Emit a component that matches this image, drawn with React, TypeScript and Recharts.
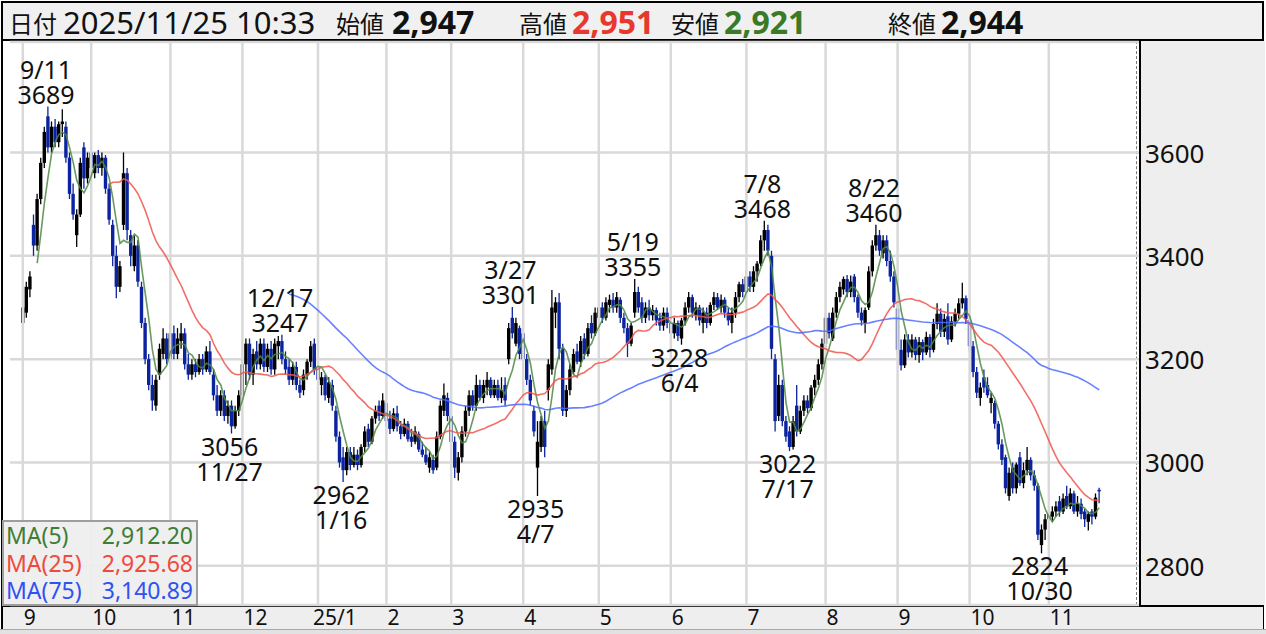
import React from 'react';
import {
  ComposedChart, Bar, Line, XAxis, YAxis, CartesianGrid, ReferenceLine, ReferenceDot,
} from 'recharts';

// ── Data ──────────────────────────────────────────────────────────────────────

// month labels on the time axis, one per month array below
const MONTH_LABELS = ['9', '10', '11', '12', '25/1', '2', '3', '4', '5', '6', '7', '8', '9', '10', '11'];

// daily candles [open, high, low, close]
const SEP24 = [
  [3270, 3320, 3262, 3300], [3290, 3350, 3280, 3340], [3335, 3370, 3320, 3360], [3460, 3480, 3400, 3420],
  [3420, 3520, 3410, 3510], [3510, 3590, 3500, 3580], [3580, 3650, 3570, 3640], [3670, 3689, 3600, 3610],
  [3610, 3660, 3600, 3650], [3650, 3665, 3610, 3620], [3620, 3660, 3610, 3655], [3655, 3684, 3630, 3660],
  [3650, 3660, 3580, 3590], [3590, 3600, 3510, 3520], [3520, 3540, 3470, 3480], [3440, 3490, 3417, 3480],
  [3480, 3590, 3475, 3580], [3610, 3620, 3530, 3550], [3550, 3600, 3540, 3590],
];
const OCT24 = [
  [3600, 3610, 3560, 3570], [3560, 3600, 3550, 3595], [3595, 3605, 3560, 3570], [3570, 3600, 3555, 3590],
  [3590, 3595, 3520, 3530], [3530, 3540, 3460, 3470], [3460, 3470, 3380, 3400], [3400, 3420, 3318, 3340],
  [3340, 3390, 3330, 3380], [3460, 3600, 3450, 3560], [3560, 3570, 3430, 3450], [3440, 3450, 3380, 3400],
  [3380, 3440, 3370, 3420], [3420, 3430, 3340, 3350], [3340, 3350, 3260, 3270], [3270, 3280, 3190, 3200],
  [3200, 3210, 3140, 3150], [3150, 3170, 3100, 3120], [3110, 3170, 3100, 3160], [3170, 3230, 3160, 3220],
  [3210, 3260, 3200, 3240], [3240, 3250, 3190, 3200],
];
const NOV24 = [
  [3200, 3270, 3190, 3250], [3250, 3265, 3200, 3210], [3210, 3260, 3200, 3240], [3235, 3270, 3220, 3250],
  [3250, 3260, 3180, 3190], [3190, 3210, 3160, 3170], [3170, 3200, 3160, 3190], [3190, 3200, 3165, 3175],
  [3175, 3210, 3170, 3200], [3200, 3210, 3170, 3180], [3180, 3225, 3175, 3215], [3215, 3235, 3170, 3175],
  [3170, 3180, 3120, 3130], [3130, 3150, 3090, 3100], [3100, 3140, 3090, 3130], [3130, 3140, 3080, 3090],
  [3090, 3120, 3075, 3110], [3110, 3120, 3056, 3070], [3070, 3110, 3065, 3100], [3100, 3140, 3090, 3130],
];
const DEC24 = [
  [3130, 3200, 3120, 3190], [3190, 3240, 3150, 3230], [3230, 3240, 3160, 3170], [3170, 3220, 3150, 3210],
  [3215, 3235, 3180, 3190], [3190, 3240, 3180, 3230], [3230, 3240, 3175, 3185], [3185, 3230, 3175, 3220],
  [3220, 3235, 3170, 3180], [3180, 3240, 3170, 3230], [3225, 3245, 3200, 3235], [3235, 3247, 3190, 3200],
  [3200, 3215, 3170, 3180], [3185, 3200, 3150, 3160], [3160, 3195, 3150, 3185], [3185, 3195, 3140, 3150],
  [3150, 3160, 3125, 3135], [3140, 3180, 3130, 3170], [3170, 3200, 3160, 3195], [3195, 3235, 3185, 3225],
  [3230, 3240, 3170, 3180],
];
const JAN25 = [
  [3185, 3195, 3150, 3160], [3150, 3175, 3130, 3165], [3165, 3170, 3120, 3130], [3125, 3165, 3115, 3155],
  [3150, 3160, 3100, 3110], [3100, 3110, 3040, 3050], [3050, 3060, 2990, 3000], [3010, 3030, 2962, 2985],
  [2985, 3030, 2975, 3020], [3020, 3030, 2985, 2995], [2995, 3030, 2990, 3015], [3015, 3025, 2985, 2995],
  [2995, 3035, 2990, 3030], [3030, 3070, 3020, 3060], [3065, 3075, 3030, 3040], [3040, 3090, 3035, 3085],
  [3085, 3110, 3075, 3100], [3110, 3120, 3080, 3090], [3090, 3134, 3085, 3120],
];
const FEB25 = [
  [3115, 3120, 3070, 3080], [3085, 3100, 3055, 3065], [3065, 3105, 3060, 3095], [3095, 3110, 3060, 3070],
  [3070, 3080, 3045, 3055], [3055, 3085, 3050, 3075], [3075, 3080, 3040, 3045], [3050, 3065, 3030, 3040],
  [3040, 3070, 3035, 3060], [3055, 3060, 3020, 3025], [3025, 3040, 3010, 3015], [3015, 3030, 2995, 3000],
  [2990, 3020, 2980, 3010], [3005, 3015, 2978, 2985], [2990, 3060, 2985, 3050], [3050, 3120, 3045, 3110],
  [3100, 3153, 3090, 3130], [3125, 3135, 3080, 3090],
];
const MAR25 = [
  [3090, 3100, 3030, 3040], [3040, 3050, 2970, 2990], [2980, 3020, 2965, 3010], [3010, 3070, 3000, 3060],
  [3060, 3110, 3050, 3100], [3100, 3140, 3090, 3130], [3130, 3140, 3100, 3110], [3110, 3170, 3100, 3150],
  [3150, 3160, 3120, 3125], [3125, 3160, 3115, 3150], [3145, 3175, 3130, 3160], [3160, 3165, 3125, 3130],
  [3130, 3160, 3125, 3150], [3150, 3160, 3120, 3125], [3125, 3165, 3115, 3140], [3150, 3165, 3110, 3120],
  [3200, 3270, 3190, 3260], [3280, 3301, 3240, 3250], [3230, 3280, 3225, 3270], [3260, 3265, 3200, 3210],
];
const APR25 = [
  [3250, 3255, 3190, 3200], [3200, 3210, 3150, 3160], [3160, 3170, 3110, 3120], [3100, 3110, 3050, 3060],
  [2990, 3080, 2935, 3040], [3030, 3090, 3020, 3080], [3080, 3100, 3010, 3030], [3140, 3200, 3120, 3190],
  [3180, 3334, 3170, 3300], [3290, 3320, 3260, 3310], [3310, 3328, 3200, 3220], [3220, 3230, 3090, 3100],
  [3100, 3150, 3088, 3140], [3140, 3190, 3130, 3180], [3175, 3220, 3170, 3210], [3215, 3230, 3190, 3195],
  [3195, 3245, 3185, 3235], [3240, 3250, 3200, 3210], [3210, 3270, 3205, 3260], [3270, 3285, 3240, 3250],
  [3250, 3300, 3245, 3290],
];
const MAY25 = [
  [3280, 3310, 3270, 3300], [3300, 3310, 3270, 3280], [3280, 3320, 3275, 3310], [3305, 3325, 3290, 3315],
  [3315, 3328, 3290, 3300], [3300, 3330, 3290, 3320], [3315, 3320, 3270, 3280], [3280, 3290, 3250, 3260],
  [3260, 3270, 3204, 3230], [3230, 3270, 3225, 3265], [3290, 3355, 3280, 3330], [3330, 3340, 3290, 3300],
  [3310, 3320, 3270, 3280], [3280, 3310, 3270, 3300], [3300, 3315, 3275, 3285], [3285, 3305, 3275, 3295],
  [3295, 3300, 3265, 3275], [3280, 3290, 3255, 3265], [3265, 3300, 3255, 3290], [3290, 3300, 3260, 3270],
];
const JUN25 = [
  [3270, 3280, 3240, 3250], [3250, 3280, 3240, 3270], [3270, 3275, 3235, 3245], [3240, 3280, 3228, 3275],
  [3275, 3310, 3265, 3300], [3300, 3330, 3290, 3320], [3320, 3325, 3280, 3290], [3285, 3310, 3275, 3300],
  [3300, 3305, 3265, 3275], [3270, 3300, 3250, 3290], [3290, 3300, 3260, 3270], [3270, 3310, 3265, 3305],
  [3305, 3330, 3295, 3320], [3320, 3328, 3295, 3300], [3300, 3325, 3290, 3315], [3315, 3320, 3280, 3290],
  [3290, 3300, 3265, 3275], [3270, 3300, 3250, 3290], [3290, 3330, 3280, 3320], [3320, 3350, 3310, 3345],
  [3345, 3355, 3320, 3330],
];
const JUL25 = [
  [3330, 3370, 3320, 3360], [3360, 3370, 3330, 3340], [3340, 3380, 3330, 3370], [3370, 3390, 3350, 3385],
  [3385, 3440, 3380, 3430], [3430, 3468, 3410, 3450], [3450, 3460, 3400, 3410], [3400, 3410, 3200, 3220],
  [3200, 3210, 3060, 3080], [3090, 3170, 3080, 3150], [3150, 3160, 3070, 3080], [3080, 3090, 3040, 3050],
  [3060, 3070, 3022, 3030], [3030, 3090, 3025, 3080], [3110, 3150, 3050, 3060], [3060, 3110, 3055, 3100],
  [3100, 3130, 3090, 3120], [3120, 3130, 3095, 3105], [3105, 3150, 3100, 3145], [3145, 3170, 3130, 3160],
  [3160, 3200, 3150, 3190], [3190, 3240, 3180, 3230],
];
const AUG25 = [
  [3230, 3290, 3220, 3280], [3280, 3290, 3240, 3250], [3240, 3300, 3235, 3290], [3290, 3330, 3280, 3320],
  [3320, 3350, 3310, 3340], [3335, 3360, 3325, 3355], [3355, 3363, 3320, 3330], [3330, 3362, 3320, 3350],
  [3360, 3365, 3310, 3320], [3320, 3325, 3280, 3290], [3290, 3300, 3265, 3275], [3270, 3300, 3250, 3295],
  [3300, 3380, 3295, 3370], [3370, 3430, 3360, 3420], [3420, 3460, 3410, 3440], [3440, 3450, 3400, 3410],
  [3405, 3440, 3395, 3430], [3430, 3440, 3380, 3390], [3390, 3410, 3350, 3360], [3360, 3370, 3300, 3310],
];
const SEP25 = [
  [3298, 3308, 3208, 3218], [3218, 3238, 3178, 3188], [3188, 3248, 3183, 3238], [3238, 3248, 3203, 3213],
  [3213, 3248, 3203, 3238], [3238, 3243, 3198, 3208], [3208, 3243, 3193, 3233], [3233, 3238, 3198, 3213],
  [3213, 3253, 3208, 3243], [3243, 3248, 3203, 3218], [3218, 3278, 3213, 3268], [3268, 3308, 3258, 3288],
  [3288, 3298, 3243, 3253], [3253, 3288, 3243, 3278], [3283, 3308, 3228, 3238], [3238, 3283, 3233, 3273],
  [3273, 3298, 3263, 3288], [3288, 3318, 3278, 3308], [3308, 3348, 3298, 3318], [3318, 3323, 3268, 3278],
];
const OCT25 = [
  [3275, 3280, 3215, 3225], [3225, 3235, 3165, 3175], [3175, 3185, 3125, 3135], [3125, 3155, 3110, 3145],
  [3165, 3180, 3135, 3145], [3150, 3165, 3125, 3130], [3115, 3135, 3095, 3125], [3115, 3120, 3065, 3075],
  [3075, 3080, 3025, 3035], [3035, 3045, 2995, 3005], [3010, 3015, 2940, 2950], [2935, 2990, 2926, 2980],
  [2990, 3000, 2940, 2950], [2950, 3000, 2940, 2996], [3010, 3020, 2955, 2960], [2960, 3000, 2950, 2985],
  [2985, 3030, 2975, 3005], [3005, 3010, 2965, 2975], [2975, 2985, 2945, 2955], [2955, 2960, 2850, 2860],
  [2840, 2880, 2824, 2870], [2870, 2900, 2850, 2890],
];
const NOV25 = [
  [2890, 2910, 2870, 2900], [2895, 2915, 2885, 2905], [2905, 2925, 2895, 2915], [2925, 2935, 2895, 2905],
  [2905, 2940, 2900, 2930], [2935, 2955, 2910, 2915], [2915, 2950, 2910, 2940], [2940, 2945, 2900, 2905],
  [2905, 2935, 2895, 2920], [2920, 2930, 2890, 2900], [2905, 2910, 2875, 2890], [2885, 2905, 2868, 2900],
  [2905, 2910, 2880, 2895], [2895, 2940, 2890, 2932], [2947, 2951, 2921, 2944],
];

const MONTHS = [SEP24, OCT24, NOV24, DEC24, JAN25, FEB25, MAR25, APR25, MAY25, JUN25, JUL25, AUG25, SEP25, OCT25, NOV25];

// high / low callouts: day index into the series, date text, which side
const MARKS = [
  { idx: 7, date: '9/11', kind: 'high' },
  { idx: 58, date: '11/27', kind: 'low' },
  { idx: 72, date: '12/17', kind: 'high' },
  { idx: 89, date: '1/16', kind: 'low' },
  { idx: 136, date: '3/27', kind: 'high' },
  { idx: 143, date: '4/7', kind: 'low' },
  { idx: 170, date: '5/19', kind: 'high' },
  { idx: 183, date: '6/4', kind: 'low' },
  { idx: 206, date: '7/8', kind: 'high' },
  { idx: 213, date: '7/17', kind: 'low' },
  { idx: 237, date: '8/22', kind: 'high' },
  { idx: 283, date: '10/30', kind: 'low' },
];

const PRICE_TICKS = [2800, 3000, 3200, 3400, 3600];
const HEADER_TIME = '2025/11/25 10:33';
const MA_PERIODS = [5, 25, 75];
const MA_NAMES = ['MA(5)', 'MA(25)', 'MA(75)'];
const MA_VALUES = ['2,912.20', '2,925.68', '3,140.89'];

// ── Styles ────────────────────────────────────────────────────────────────────

const FONT = '"Noto Sans", "Noto Sans CJK JP", sans-serif';
const JP = '"Noto Sans CJK JP", "Noto Sans", sans-serif';
const UP = '#000000';
const DOWN = '#0b239e';
const MA_COLORS = ['#4e8a43', '#f0564c', '#4d6cff'];
const LEGEND_COLORS = ['#3f7d36', '#ee4a40', '#2f52f2'];
const GRID = '#d9d9d9';

// ── Rows ──────────────────────────────────────────────────────────────────────

const rows: any[] = [];
const monthStarts: number[] = [];
MONTHS.forEach((m) => {
  monthStarts.push(rows.length);
  m.forEach(([o, h, l, c]) => {
    rows.push({ i: rows.length, o, h, l, c, range: [l, h] });
  });
});
MA_PERIODS.forEach((n) => {
  rows.forEach((r, i) => {
    if (i < n - 1) { r[`ma${n}`] = null; return; }
    let s = 0;
    for (let k = i - n + 1; k <= i; k++) s += rows[k].c;
    r[`ma${n}`] = s / n;
  });
});
const last = rows[rows.length - 1];
const startLabel: Record<number, string> = {};
monthStarts.forEach((s, k) => { startLabel[s] = MONTH_LABELS[k]; });

// ── Pieces ────────────────────────────────────────────────────────────────────

function Candle(props: any) {
  const { x, y, width, height, payload } = props;
  if (!payload || y == null) return null;
  const { o, h, l, c } = payload;
  const top = Math.min(y, y + height);
  const bot = Math.max(y, y + height);
  const span = h - l || 1;
  const py = (v: number) => top + ((h - v) / span) * (bot - top);
  const color = c >= o ? UP : DOWN;
  const cx = x + width / 2;
  const bTop = py(Math.max(o, c));
  const bBot = py(Math.min(o, c));
  return (
    <g>
      <line x1={cx} x2={cx} y1={top} y2={bot} stroke={color} strokeWidth={1.3} />
      <rect x={x} y={bTop} width={width} height={Math.max(1.5, bBot - bTop)} fill={color} />
    </g>
  );
}

function PriceTick({ x, y, payload }: any) {
  return (
    <text x={x + 6} y={y} dominantBaseline="central" fontSize={26} fill="#111" fontFamily={FONT}>
      {payload.value}
    </text>
  );
}

function MonthTick({ x, y, payload }: any) {
  const label = startLabel[payload.value];
  return (
    <text x={x + (label.length > 2 ? -5 : 1)} y={y + 12} dominantBaseline="central" fontSize={21} fill="#111" fontFamily={FONT}>
      {label}
    </text>
  );
}

function MarkLabel({ cx, cy, date, value, kind }: any) {
  const lines: [string, number][] = kind === 'high'
    ? [[date, -38], [String(value), -13]]
    : [[String(value), 12], [date, 37]];
  return (
    <g>
      {lines.map(([t, dy]) => (
        <text key={t} x={cx - 2} y={cy + dy} textAnchor="middle" dominantBaseline="central"
          fontSize={25} fill="#111" fontFamily={FONT}>{t}</text>
      ))}
    </g>
  );
}

const fmt = (v: number) => v.toLocaleString('en-US');

function Header() {
  const jp = { position: 'absolute' as const, top: 5, fontFamily: JP, fontSize: 24, color: '#111', lineHeight: '30px' };
  const num = { position: 'absolute' as const, top: 1, fontFamily: FONT, fontSize: 32, lineHeight: '36px', fontWeight: 700 };
  return (
    <div style={{
      position: 'absolute', left: 1, top: 1, width: 1263, height: 40, boxSizing: 'border-box',
      border: '2px solid #000', background: '#f0f0f0',
    }}>
      <span style={{ ...jp, left: 6 }}>日付</span>
      <span style={{ ...num, left: 60, fontSize: 31, fontWeight: 400, color: '#111' }}>{HEADER_TIME}</span>
      <span style={{ ...jp, left: 333 }}>始値</span>
      <span style={{ ...num, left: 389, color: '#111' }}>{fmt(last.o)}</span>
      <span style={{ ...jp, left: 516 }}>高値</span>
      <span style={{ ...num, left: 569, color: '#e8372c' }}>{fmt(last.h)}</span>
      <span style={{ ...jp, left: 668 }}>安値</span>
      <span style={{ ...num, left: 721, color: '#3b7a25' }}>{fmt(last.l)}</span>
      <span style={{ ...jp, left: 885 }}>終値</span>
      <span style={{ ...num, left: 938, color: '#111' }}>{fmt(last.c)}</span>
    </div>
  );
}

function MaLegend() {
  return (
    <div style={{
      position: 'absolute', left: 2, top: 520, width: 196, height: 86, boxSizing: 'border-box',
      border: '2px solid #9e9e9e', background: 'rgba(238,238,238,0.95)', zIndex: 2,
      fontFamily: FONT, fontSize: 23, padding: '0 3px 0 2px',
    }}>
      {MA_NAMES.map((n, k) => (
        <div key={n} style={{ display: 'flex', justifyContent: 'space-between', height: 27.5, lineHeight: '27px', color: LEGEND_COLORS[k] }}>
          <span>{n}</span><span>{MA_VALUES[k]}</span>
        </div>
      ))}
    </div>
  );
}

// ── Chart ─────────────────────────────────────────────────────────────────────

export default function App() {
  return (
    <div style={{ position: 'fixed', left: 0, top: 0, width: 1266, height: 634, background: '#fff', overflow: 'hidden' }}>
      {/* outer frame */}
      <div style={{ position: 'absolute', left: 1, top: 1, width: 1263, height: 628, boxSizing: 'border-box', border: '2px solid #000' }} />
      {/* price panel */}
      <div style={{ position: 'absolute', left: 1139, top: 41, width: 124, height: 564, background: '#eeeeee', borderLeft: '2px solid #000' }} />
      <div style={{ position: 'absolute', left: 1136, top: 41, height: 564, borderLeft: '1px dashed #7a7a7a' }} />
      {/* time strip */}
      <div style={{ position: 'absolute', left: 3, top: 605, width: 1260, height: 22, background: '#eeeeee', borderTop: '2px solid #000' }} />
      <div style={{ position: 'absolute', left: 0, top: 629, width: 1266, height: 5, background: '#e2e2e2', borderTop: '1px solid #a8a8a8' }} />
      <Header />

      <div style={{ position: 'absolute', left: 0, top: 0, zIndex: 1 }}>
        <ComposedChart width={1266} height={634} data={rows} margin={{ top: 42, right: 0, bottom: 0, left: 10 }}>
          <CartesianGrid vertical={false} stroke={GRID} strokeWidth={2.5} />
          {monthStarts.map((s) => (
            <ReferenceLine key={s} x={s} stroke={GRID} strokeWidth={2.5} />
          ))}
          <XAxis
            dataKey="i"
            type="category"
            height={29}
            padding={{ left: 11, right: 38 }}
            ticks={monthStarts}
            interval={0}
            axisLine={false}
            tickLine={false}
            tickSize={0}
            tickMargin={0}
            tick={<MonthTick />}
          />
          <YAxis
            orientation="right"
            type="number"
            width={127}
            domain={[2724, 3814]}
            allowDataOverflow
            ticks={PRICE_TICKS}
            interval={0}
            axisLine={false}
            tickLine={false}
            tickSize={0}
            tickMargin={0}
            tick={<PriceTick />}
          />
          <Bar dataKey="range" barSize={3.4} shape={<Candle />} isAnimationActive={false} />
          {MA_PERIODS.map((n, k) => (
            <Line
              key={n}
              dataKey={`ma${n}`}
              type="linear"
              stroke={MA_COLORS[k]}
              strokeWidth={1.6}
              strokeOpacity={0.85}
              dot={false}
              activeDot={false}
              isAnimationActive={false}
            />
          ))}
          {MARKS.map((m) => {
            const r = rows[m.idx];
            const v = m.kind === 'high' ? r.h : r.l;
            return (
              <ReferenceDot
                key={m.date}
                x={m.idx}
                y={v}
                ifOverflow="visible"
                shape={(p: any) => <MarkLabel cx={p.cx} cy={p.cy} date={m.date} value={v} kind={m.kind} />}
              />
            );
          })}
        </ComposedChart>
      </div>

      <MaLegend />
    </div>
  );
}
